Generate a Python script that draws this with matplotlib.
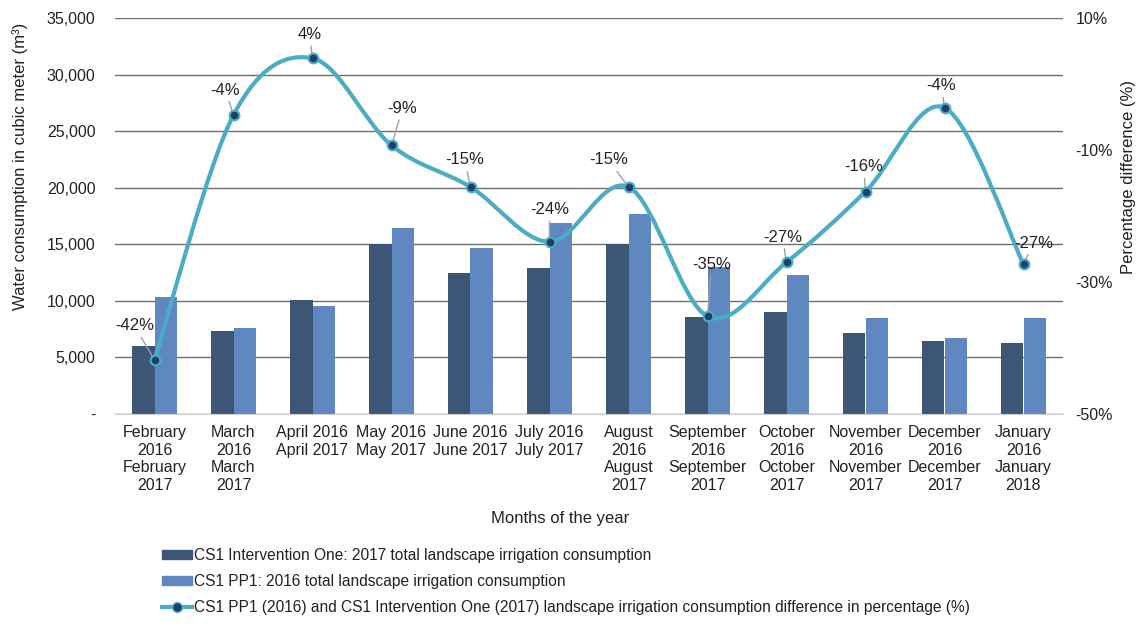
import numpy as np
import matplotlib
matplotlib.use("Agg")
import matplotlib.pyplot as plt
from matplotlib.path import Path
from matplotlib.patches import PathPatch, Patch
from matplotlib.lines import Line2D
from matplotlib.ticker import FuncFormatter

plt.rcParams['font.family'] = ['Liberation Sans', 'DejaVu Sans']
plt.rcParams['font.size'] = 11.5

# datos
meses = ["February\n2016\nFebruary\n2017", "March\n2016\nMarch\n2017",
         "April 2016\nApril 2017", "May 2016\nMay 2017", "June 2016\nJune 2017",
         "July 2016\nJuly 2017", "August\n2016\nAugust\n2017",
         "September\n2016\nSeptember\n2017", "October\n2016\nOctober\n2017",
         "November\n2016\nNovember\n2017", "December\n2016\nDecember\n2017",
         "January\n2016\nJanuary\n2018"]
consumo_2017 = [6000, 7340, 10080, 15000, 12430, 12880, 15000, 8600, 9040, 7130, 6450, 6250]
consumo_2016 = [10370, 7630, 9570, 16400, 14700, 16850, 17680, 13000, 12290, 8510, 6690, 8510]
diferencia = [-41.8, -4.7, 3.9, -9.3, -15.6, -23.9, -15.6, -35.2, -27.0, -16.3, -3.6, -27.3]
etiquetas = ["-42%", "-4%", "4%", "-9%", "-15%", "-24%", "-15%", "-35%", "-27%", "-16%", "-4%", "-27%"]
# desplazamiento de las etiquetas (pixeles)
offsets = [(-20, 34), (-8, 25), (-3, 24), (11, 37), (-6, 27), (0, 32), (-20, 27),
           (4, 52), (-4, 25), (-2, 25), (-3, 22), (10, 21)]

c_dark = '#3E5676'
c_light = '#5F87C0'
c_line = '#4BACC6'
c_marker = '#1F3F6B'

fig = plt.figure(figsize=(11.4, 6.24), dpi=100)
ax = fig.add_axes([115/1140, 1-414/624, 948/1140, 396/624])
ax2 = ax.twinx()

x = np.arange(len(meses))
w = 0.28
ax.bar(x - w/2, consumo_2017, w, color=c_dark, zorder=2)
ax.bar(x + w/2, consumo_2016, w, color=c_light, zorder=2)

ax.set_xlim(-0.5, len(meses) - 0.5)
ax.set_ylim(0, 35000)
ax.set_yticks(np.arange(0, 35001, 5000))
ax.yaxis.set_major_formatter(FuncFormatter(lambda v, p: '-' if v == 0 else f'{int(v):,}'))
ax.set_xticks(x)
ax.set_xticklabels(meses, linespacing=1.22)
ax.tick_params(axis='both', length=0, colors='#222222')
ax.tick_params(axis='y', pad=14)
ax.tick_params(axis='x', pad=8)
ax.grid(axis='y', color='#6E6E6E', lw=1)
ax.set_axisbelow(True)
for s in ax.spines.values():
    s.set_visible(False)
ax.spines['bottom'].set_visible(True)
ax.spines['bottom'].set_color('#D0D0D0')

# curva suavizada tipo Excel (Bezier)
pts = np.column_stack([x, diferencia]).astype(float)
verts = [pts[0]]
codes = [Path.MOVETO]
n = len(pts)
for i in range(n - 1):
    p0 = pts[max(i - 1, 0)]
    p1 = pts[i]
    p2 = pts[i + 1]
    p3 = pts[min(i + 2, n - 1)]
    verts += [p1 + (p2 - p0) / 6, p2 - (p3 - p1) / 6, p2]
    codes += [Path.CURVE4] * 3
ax2.add_patch(PathPatch(Path(verts, codes), fill=False, edgecolor=c_line, lw=3, zorder=3))
ax2.plot(x, diferencia, ls='none', marker='o', ms=7, mfc=c_marker, mec=c_line, mew=1.5, zorder=4)

for xi, yi, lab, off in zip(x, diferencia, etiquetas, offsets):
    ax2.annotate(lab, (xi, yi), xytext=off, textcoords='offset pixels',
                 ha='center', va='center', fontsize=12, color='#222222',
                 arrowprops=dict(arrowstyle='-', color='#A0A0A0', lw=1, shrinkA=1, shrinkB=3))

ax2.set_ylim(-50, 10)
ax2.set_yticks([-50, -30, -10, 10])
ax2.yaxis.set_major_formatter(FuncFormatter(lambda v, p: f'{int(v)}%'))
ax2.tick_params(axis='y', length=0, pad=9, colors='#222222')
for s in ax2.spines.values():
    s.set_visible(False)

fig.text(20/1140, 1-166/624, 'Water consumption in cubic meter (m³)', rotation=90,
         ha='center', va='center', fontsize=12, color='#222222')
fig.text(1129/1140, 1-177/624, 'Percentage difference (%)', rotation=90,
         ha='center', va='center', fontsize=12, color='#222222')
fig.text(560/1140, 1-518/624, 'Months of the year', ha='center', va='center',
         fontsize=12, color='#222222')

handles = [Patch(color=c_dark), Patch(color=c_light),
           Line2D([], [], color=c_line, lw=3, marker='o', ms=7, mfc=c_marker, mec=c_line)]
nombres = ['CS1 Intervention One: 2017 total landscape irrigation consumption',
           'CS1 PP1: 2016 total landscape irrigation consumption',
           'CS1 PP1 (2016) and CS1 Intervention One (2017) landscape irrigation consumption difference in percentage (%)']
fig.legend(handles, nombres, loc='upper left', bbox_to_anchor=(162/1140, 1-548/624),
           frameon=False, borderpad=0, borderaxespad=0, handlelength=1.9,
           handleheight=0.5, handletextpad=0.15, labelspacing=0.7, fontsize=11.2,
           labelcolor='#222222')

fig.savefig('out.png', dpi=100)
